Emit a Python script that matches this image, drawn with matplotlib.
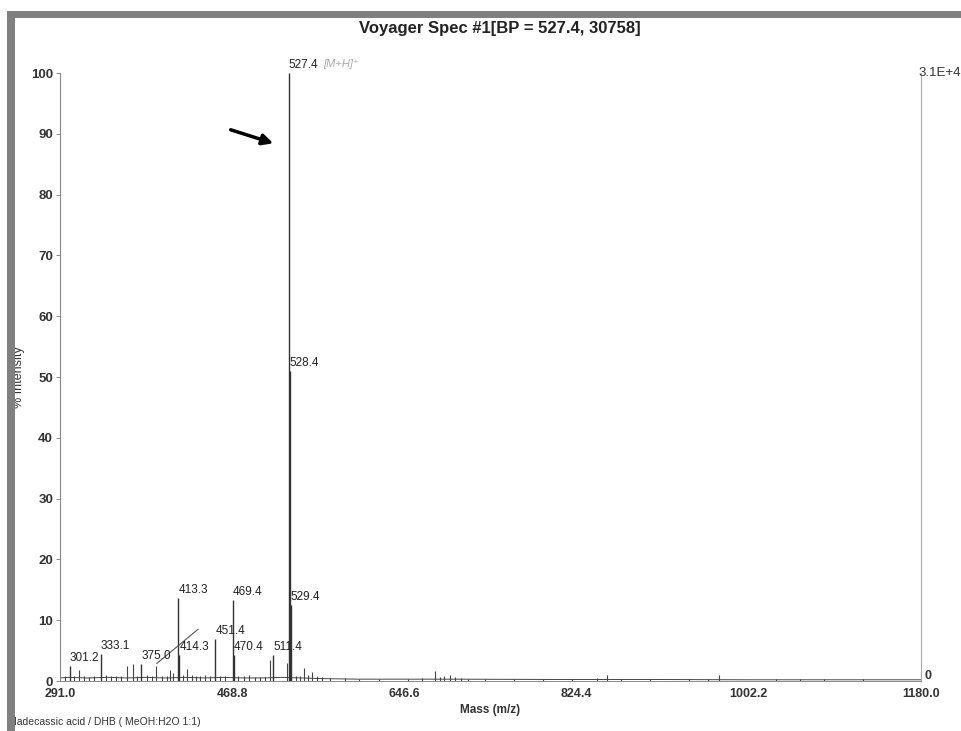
import matplotlib.pyplot as plt
from matplotlib.patches import Rectangle

plt.rcParams['font.family'] = ['Liberation Sans', 'DejaVu Sans']

# labelled peaks (m/z, % intensity)
peak_mz = [301.2, 333.1, 375.0, 413.3, 414.3, 451.4, 469.4, 470.4, 511.4, 527.4, 528.4, 529.4]
peak_int = [2.5, 4.5, 2.8, 13.6, 4.3, 6.9, 13.3, 4.3, 4.3, 100.0, 51.0, 12.5]
peak_text = ["301.2", "333.1", "375.0", "413.3", "414.3", "451.4", "469.4", "470.4", "511.4", "527.4", "528.4", "529.4"]

# unlabelled small peaks
minor_mz = [296, 305, 310.6, 316, 321, 326, 338, 344, 349, 354, 360.2, 366, 371, 381, 386,
            390.1, 396, 401, 404.6, 407.7, 418, 422.1, 427, 431, 436, 440.7, 446, 456, 461,
            475, 481, 486.1, 492, 497, 503, 507.8, 525.4, 535, 539, 543, 547, 551.2, 556,
            562, 570, 585, 600, 620, 650, 665, 678.2, 683, 688, 693.7, 699, 705, 712, 730,
            760, 790, 820, 845, 855.8, 870, 900, 940, 960, 971.4, 1030, 1055, 1080, 1120]
minor_int = [0.9, 0.8, 1.8, 0.9, 0.7, 0.8, 1.0, 0.9, 0.8, 0.9, 2.5, 2.8, 0.8, 1.0, 0.9,
             2.5, 0.9, 0.8, 1.8, 1.3, 1.0, 1.9, 1.0, 0.8, 0.9, 1.0, 0.8, 0.9, 0.8,
             0.9, 0.8, 1.0, 0.7, 0.6, 0.7, 3.5, 3.0, 0.8, 0.9, 2.2, 1.0, 1.5, 0.8,
             0.6, 0.5, 0.5, 0.4, 0.4, 0.4, 0.5, 1.6, 0.6, 0.8, 1.0, 0.6, 0.5, 0.4, 0.4,
             0.3, 0.3, 0.4, 0.5, 1.0, 0.4, 0.3, 0.3, 0.4, 1.0, 0.3, 0.3, 0.4, 0.3]

# noisy baseline
base_mz = [291, 300, 320, 340, 360, 380, 400, 420, 440, 460, 480, 500, 520, 540, 560, 600,
           650, 700, 800, 900, 1000, 1100, 1180]
base_int = [0.5, 0.6, 0.5, 0.6, 0.5, 0.6, 0.5, 0.6, 0.5, 0.6, 0.5, 0.5, 0.6, 0.5, 0.4, 0.3,
            0.3, 0.3, 0.25, 0.25, 0.2, 0.2, 0.2]

x_ticks = [291.0, 468.8, 646.6, 824.4, 1002.2, 1180.0]
y_ticks = [0, 10, 20, 30, 40, 50, 60, 70, 80, 90, 100]

fig = plt.figure(figsize=(9.62, 7.31), dpi=100)
ax = fig.add_axes([60 / 962, 50 / 731, 861 / 962, 608 / 731])

ax.plot(base_mz, base_int, color='#444444', lw=0.7)
ax.vlines(minor_mz, 0, minor_int, color='#444444', lw=0.8)
ax.vlines(peak_mz, 0, peak_int, color='#333333', lw=1.0)

for m, h, t in zip(peak_mz, peak_int, peak_text):
    ax.text(m, h + 0.3, t, fontsize=8.5, color='#222222', ha='left', va='bottom')

# hand-drawn marks on the scan
ax.plot([391, 433.5], [2.9, 8.5], color='#555555', lw=0.8)
ax.annotate("", xy=(514, 88.3), xytext=(464.5, 90.8),
            arrowprops=dict(arrowstyle='-|>', lw=2.5, color='black', mutation_scale=16))
ax.text(563, 100.6, "[M+H]⁺", fontsize=8, color='#aaaaaa', style='italic', va='bottom')

ax.set_xlim(291, 1180)
ax.set_ylim(0, 100)
ax.set_xticks(x_ticks)
ax.set_xticklabels(["%.1f" % v for v in x_ticks])
ax.set_yticks(y_ticks)
ax.tick_params(axis='x', length=0, pad=5, labelsize=9, labelcolor='#333333')
ax.tick_params(axis='y', length=3, width=0.6, color='#777777', pad=2, labelsize=9.5, labelcolor='#333333')
for lab in ax.get_xticklabels() + ax.get_yticklabels():
    lab.set_fontweight('bold')

ax.spines['top'].set_visible(False)
ax.spines['left'].set_color('#888888')
ax.spines['left'].set_linewidth(0.8)
ax.spines['right'].set_color('#aaaaaa')
ax.spines['right'].set_linewidth(0.8)
ax.spines['bottom'].set_color('#777777')
ax.spines['bottom'].set_linewidth(0.6)

ax.set_xlabel("Mass (m/z)", fontsize=8.5, fontweight='bold', color='#333333', labelpad=3)
ax.set_ylabel("% Intensity", fontsize=9, color='#333333', labelpad=4)

fig.text(918 / 962, 1 - 73 / 731, "3.1E+4", fontsize=9.5, color='#333333', va='center')
fig.text(925 / 962, 1 - 676 / 731, "0", fontsize=9, fontweight='bold', color='#333333', va='center')
fig.text(500 / 962, 1 - 29 / 731, "Voyager Spec #1[BP = 527.4, 30758]", fontsize=12,
         fontweight='bold', ha='center', va='center', color='#222222')
fig.text(8 / 962, 1 - 722 / 731, "Madecassic acid / DHB ( MeOH:H2O 1:1)", fontsize=7.5,
         color='#333333', va='center', zorder=1)

# grey scanner frame
fig.patches.append(Rectangle((7 / 962, 0), 8 / 962, 1 - 11 / 731, transform=fig.transFigure,
                             facecolor='#808080', edgecolor='none', zorder=10))
fig.patches.append(Rectangle((7 / 962, 1 - 18 / 731), 1, 7 / 731, transform=fig.transFigure,
                             facecolor='#808080', edgecolor='none', zorder=10))

fig.savefig("out.png", dpi=100)
